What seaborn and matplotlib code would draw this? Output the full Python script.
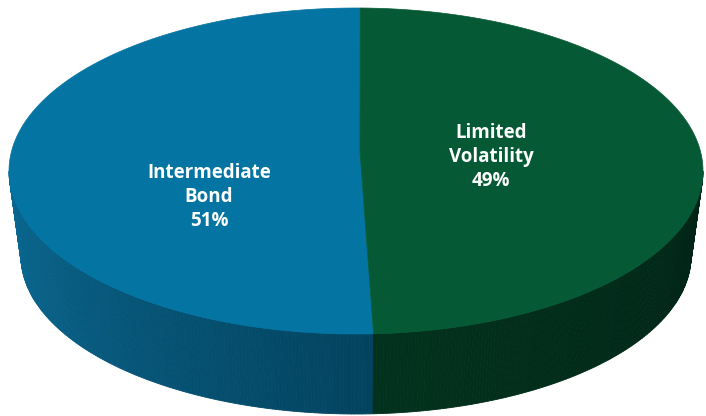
import numpy as np
import matplotlib
matplotlib.use("Agg")
import matplotlib.pyplot as plt
import seaborn as sns
from matplotlib.patches import Polygon
from matplotlib.colors import to_rgb

sns.set_theme(style="white")
plt.rcParams['font.family'] = ['Open Sans', 'DejaVu Sans']

# ---- data ----
categories = ["Intermediate\nBond", "Limited\nVolatility"]
values = [51, 49]
labels = ["51%", "49%"]
top_colors = ["#0474a2", "#055a35"]
side_light = ["#0a6a94", "#02321d"]
side_dark = ["#03435f", "#012417"]

# ---- geometry (pixel-like data coords) ----
W, H = 706, 416
cx, cy, a, b = 356, 171, 347, 163          # top ellipse
bcx, bcy, ba, bb = 356, 256, 335, 158      # bottom ellipse
pcx, pcy = 360, 152                        # apparent pie centre
start = 89.3

fig = plt.figure(figsize=(W / 100, H / 100), dpi=100)
ax = fig.add_axes([0, 0, 1, 1])
ax.set_xlim(0, W)
ax.set_ylim(H, 0)
ax.axis("off")

def top_pt(theta_deg):
    t = np.radians(theta_deg)
    return cx + a * np.cos(t), cy - b * np.sin(t)

def bot_pt(theta_deg):
    t = np.radians(theta_deg)
    return bcx + ba * np.cos(t), bcy - bb * np.sin(t)

total = float(sum(values))
angles = []
th = start
for v in values:
    sweep = 360.0 * v / total
    angles.append((th, th + sweep))
    th += sweep

# sides (visible part: 180..360 deg)
for i, (t0, t1) in enumerate(angles):
    segs = []
    for shift in (0, 360, -360):
        s0, s1 = max(t0 + shift, 180), min(t1 + shift, 360)
        if s1 > s0:
            segs.append((s0, s1))
    c1 = np.array(to_rgb(side_light[i]))
    c2 = np.array(to_rgb(side_dark[i]))
    for s0, s1 in segs:
        n = 150
        ts = np.linspace(s0, s1, n + 1)
        for k in range(n):
            ta, tb = ts[k], ts[k + 1]
            f = (k + 0.5) / n
            col = c1 + (c2 - c1) * f
            p = [top_pt(ta), top_pt(tb), bot_pt(tb), bot_pt(ta)]
            ax.add_patch(Polygon(p, closed=True, facecolor=col, edgecolor=col,
                                 linewidth=0.6, antialiased=True))

# top face
for i, (t0, t1) in enumerate(angles):
    ts = np.linspace(t0, t1, 400)
    p = [(pcx, pcy)] + [top_pt(t) for t in ts]
    ax.add_patch(Polygon(p, closed=True, facecolor=top_colors[i],
                         edgecolor=top_colors[i], linewidth=0.5))

# labels
label_pos = [(209, 197), (491, 157)]
for i in range(len(values)):
    x, y = label_pos[i]
    ax.text(x, y, categories[i] + "\n" + labels[i], color="white",
            ha="center", va="center", fontsize=13.5, fontweight="bold",
            linespacing=1.25)

fig.savefig("out.png", dpi=100, facecolor="white")
